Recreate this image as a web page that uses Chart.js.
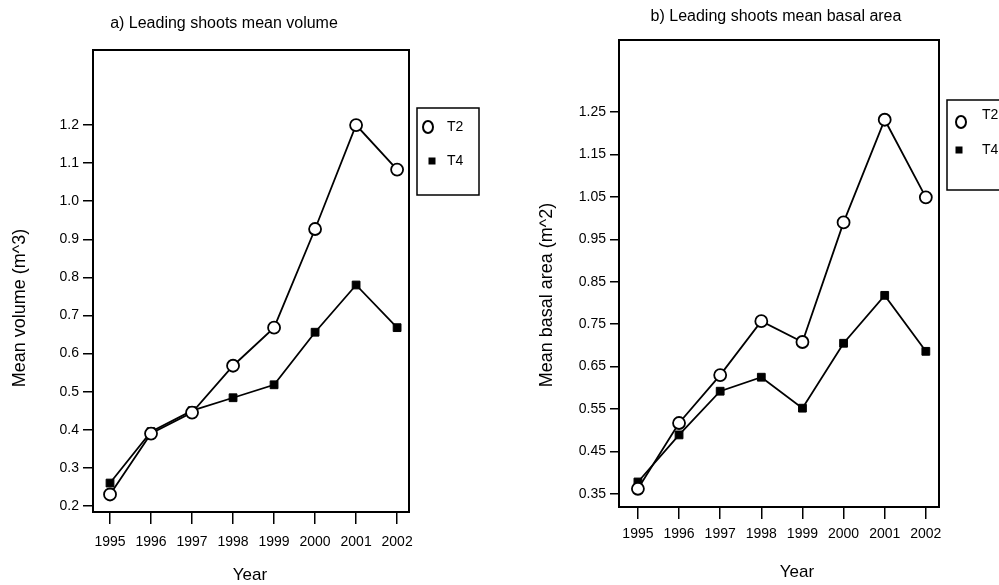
<!DOCTYPE html>
<html>
<head>
<meta charset="utf-8">
<script src="https://cdn.jsdelivr.net/npm/chart.js@4.4.1/dist/chart.umd.min.js"></script>
<style>
  html, body { margin: 0; padding: 0; background: #fff; }
  #wrap { position: relative; width: 999px; height: 585px; overflow: hidden; }
  canvas { position: absolute; top: 0; }
  #volume { left: 0; }
  #basal { left: 499px; }
</style>
</head>
<body>
<div id="wrap">
  <canvas id="volume" width="499" height="585"></canvas>
  <canvas id="basal" width="500" height="585"></canvas>
</div>
<script>
const years = [1995, 1996, 1997, 1998, 1999, 2000, 2001, 2002];
const seriesNames = ['T2', 'T4'];

const volumeT2 = [0.23, 0.39, 0.445, 0.568, 0.668, 0.927, 1.2, 1.083];
const volumeT4 = [0.26, 0.395, 0.45, 0.484, 0.518, 0.656, 0.78, 0.668];
const volumeTicks = [0.2, 0.3, 0.4, 0.5, 0.6, 0.7, 0.8, 0.9, 1.0, 1.1, 1.2];

const basalT2 = [0.362, 0.517, 0.63, 0.757, 0.708, 0.99, 1.232, 1.049];
const basalT4 = [0.378, 0.489, 0.592, 0.625, 0.552, 0.705, 0.818, 0.686];
const basalTicks = [0.35, 0.45, 0.55, 0.65, 0.75, 0.85, 0.95, 1.05, 1.15, 1.25];

const FONT = "'Liberation Sans', Arial, sans-serif";

// layout of each panel (canvas coordinates)
const panelA = {
  title: 'a) Leading shoots mean volume', titleX: 224, titleY: 24,
  yTitle: 'Mean volume (m^3)', yTitleX: 20, yTitleY: 308,
  xTitle: 'Year', xTitleX: 250, xTitleY: 575,
  area: { left: 93, top: 50, right: 409, bottom: 512 },
  xMin: 1994.585, xMax: 2002.29, yMin: 0.184, yMax: 1.397, decimals: 1,
  xTick: 12, xPad: 10, yTick: 10, yPad: 4,
  legend: { x: 417, y: 108, w: 62, h: 87,
    items: [{ mx: 428, my: 127, tx: 447, ty: 127 }, { mx: 432, my: 161, tx: 447, ty: 161 }] },
};
const panelB = {
  title: 'b) Leading shoots mean basal area', titleX: 277, titleY: 17,
  yTitle: 'Mean basal area (m^2)', yTitleX: 48, yTitleY: 295,
  xTitle: 'Year', xTitleX: 298, xTitleY: 572,
  area: { left: 120, top: 40, right: 440, bottom: 507 },
  xMin: 1994.54, xMax: 2002.32, yMin: 0.319, yMax: 1.42, decimals: 2,
  xTick: 12, xPad: 7, yTick: 9, yPad: 4,
  legend: { x: 448, y: 100, w: 70, h: 90,
    items: [{ mx: 462, my: 122, tx: 483, ty: 115 }, { mx: 460, my: 150, tx: 483, ty: 150 }] },
};

const frame = {
  id: 'frame',
  afterDraw(chart, args, p) {
    const { ctx, chartArea: a } = chart;
    ctx.save();
    ctx.strokeStyle = '#000';
    ctx.lineWidth = 2;
    ctx.strokeRect(a.left, a.top, a.right - a.left, a.bottom - a.top);

    ctx.fillStyle = '#000';
    ctx.textAlign = 'center';
    ctx.textBaseline = 'middle';
    ctx.font = '16px ' + FONT;
    ctx.fillText(p.title, p.titleX, p.titleY);
    ctx.font = '17px ' + FONT;
    ctx.fillText(p.xTitle, p.xTitleX, p.xTitleY);
    ctx.save();
    ctx.translate(p.yTitleX, p.yTitleY);
    ctx.rotate(-Math.PI / 2);
    ctx.font = '18px ' + FONT;
    ctx.fillText(p.yTitle, 0, 0);
    ctx.restore();

    // legend
    const lg = p.legend;
    ctx.lineWidth = 1.5;
    ctx.strokeRect(lg.x, lg.y, lg.w, lg.h);
    ctx.textAlign = 'left';
    ctx.font = '14px ' + FONT;
    chart.data.datasets.forEach((ds, i) => {
      const it = lg.items[i];
      if (ds.pointStyle === 'circle') {
        ctx.beginPath();
        ctx.ellipse(it.mx, it.my, 5, 6, 0, 0, Math.PI * 2);
        ctx.fillStyle = '#fff';
        ctx.fill();
        ctx.lineWidth = 2;
        ctx.stroke();
      } else {
        ctx.fillStyle = '#000';
        ctx.fillRect(it.mx - 3.5, it.my - 3.5, 7, 7);
      }
      ctx.fillStyle = '#000';
      ctx.fillText(ds.label, it.tx, it.ty);
    });
    ctx.restore();
  },
};

function makeChart(id, p, t2, t4, yTicks) {
  const canvas = document.getElementById(id);
  const W = canvas.width, H = canvas.height;
  return new Chart(canvas, {
    type: 'line',
    data: {
      datasets: [
        {
          label: seriesNames[0],
          data: years.map((y, i) => ({ x: y, y: t2[i] })),
          borderColor: '#000',
          borderWidth: 1.8,
          pointStyle: 'circle',
          pointRadius: 6,
          pointBorderWidth: 1.8,
          pointBackgroundColor: '#fff',
          pointBorderColor: '#000',
        },
        {
          label: seriesNames[1],
          data: years.map((y, i) => ({ x: y, y: t4[i] })),
          borderColor: '#000',
          borderWidth: 1.8,
          pointStyle: 'rect',
          pointRadius: 5.5,
          pointBorderWidth: 1,
          pointBackgroundColor: '#000',
          pointBorderColor: '#000',
        },
      ],
    },
    options: {
      responsive: false,
      animation: false,
      layout: { padding: { left: 0, top: p.area.top, right: W - p.area.right, bottom: 0 } },
      plugins: {
        legend: { display: false },
        tooltip: { enabled: false },
        frame: p,
      },
      scales: {
        x: {
          type: 'linear',
          min: p.xMin,
          max: p.xMax,
          afterBuildTicks: (s) => { s.ticks = years.map((v) => ({ value: v })); },
          afterFit: (s) => { s.height = H - p.area.bottom; },
          border: { display: false },
          grid: { drawOnChartArea: false, drawTicks: true, tickLength: p.xTick, color: '#000', lineWidth: 1.5 },
          ticks: {
            padding: p.xPad,
            color: '#000',
            maxRotation: 0,
            font: { family: FONT, size: 14 },
            callback: (v) => String(v),
          },
        },
        y: {
          min: p.yMin,
          max: p.yMax,
          afterBuildTicks: (s) => { s.ticks = yTicks.map((v) => ({ value: v })); },
          afterFit: (s) => { s.width = p.area.left; },
          border: { display: false },
          grid: { drawOnChartArea: false, drawTicks: true, tickLength: p.yTick, color: '#000', lineWidth: 1.5 },
          ticks: {
            padding: p.yPad,
            color: '#000',
            font: { family: FONT, size: 14 },
            callback: (v) => Number(v).toFixed(p.decimals),
          },
        },
      },
    },
    plugins: [frame],
  });
}

makeChart('volume', panelA, volumeT2, volumeT4, volumeTicks);
makeChart('basal', panelB, basalT2, basalT4, basalTicks);
</script>
</body>
</html>
